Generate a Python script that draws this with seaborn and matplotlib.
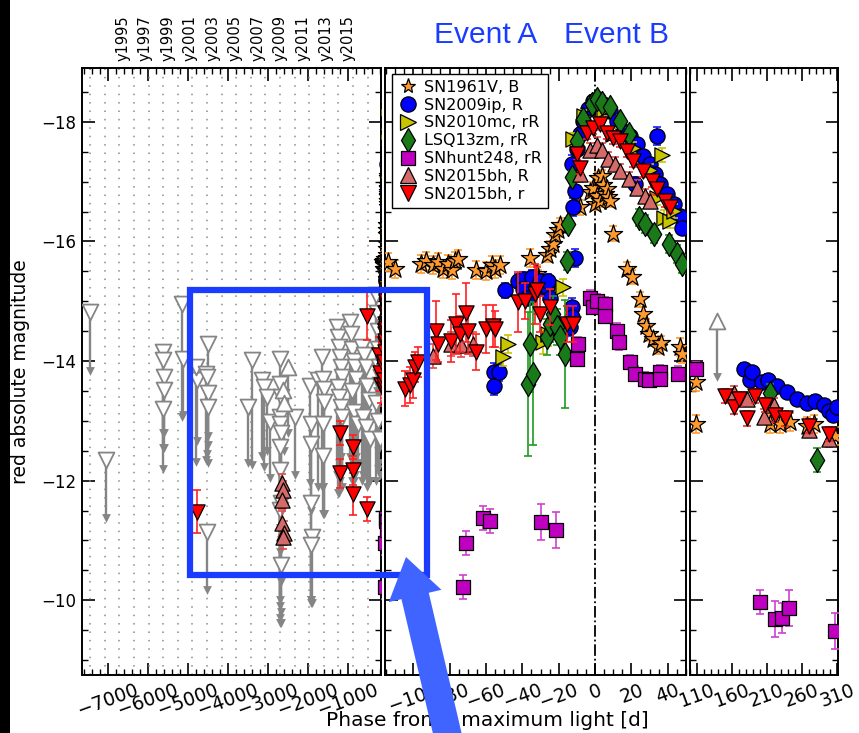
import numpy as np
import pandas as pd
import matplotlib
matplotlib.use("Agg")
import matplotlib.pyplot as plt
import seaborn as sns
from matplotlib.lines import Line2D
from matplotlib.patches import Rectangle, Polygon
from matplotlib.ticker import MultipleLocator, FixedLocator

sns.set_theme(style="ticks")
plt.rcParams['font.family'] = ['DejaVu Sans']
plt.rcParams.update({'axes.edgecolor': 'black', 'xtick.color': 'black',
                     'ytick.color': 'black', 'text.color': 'black',
                     'axes.labelcolor': 'black', 'axes.unicode_minus': True})

# ---------------- data ----------------
series_names = ['SN1961V, B', 'SN2009ip, R', 'SN2010mc, rR', 'LSQ13zm, rR',
                'SNhunt248, rR', 'SN2015bh, R', 'SN2015bh, r']

sn61_phase = [-114, -110, -95.5, -92.7, -89.0, -86.3, -83.5, -80.8, -78.9, -77.1,
              -75.3, -65.2, -59.7, -56.9, -55.1, -52.3, -35.8, -32.1, -31.5, -26.7,
              -24.9, -23.1, -22.2, -20.4, -19.5, -8.3, -2.8, -0.9, 0.0, 0.9,
              1.8, 2.8, 3.7, 4.6, 5.5, 6.4, 7.3, 8.3, 10.1, 17.4,
              20.2, 24.8, 26.6, 28.0, 29.9, 31.7, 34.5, 36.4, 46.5, 47.8,
              109, 109, 214.3, 229, 243, 267, 276.6, 307.5]
sn61_mag = [-15.65, -15.54, -15.62, -15.68, -15.60, -15.65, -15.54, -15.62, -15.52, -15.68,
            -15.71, -15.52, -15.50, -15.60, -15.54, -15.60, -15.73, -15.45, -15.38, -15.77,
            -15.88, -15.96, -16.10, -16.19, -16.27, -16.57, -16.82, -16.90, -16.62, -16.76,
            -17.06, -16.68, -17.09, -16.95, -16.79, -16.87, -16.74, -16.68, -16.13, -15.54,
            -15.40, -15.03, -14.78, -14.59, -14.45, -14.37, -14.23, -14.30, -14.23, -14.12,
            -13.65, -12.94, -12.94, -12.94, -12.98, -12.91, -12.94, -12.75]
sn61_err = [0.15, 0.15, 0.15, 0.15, 0.15, 0.15, 0.15, 0.15, 0.15, 0.15,
            0.15, 0.15, 0.15, 0.15, 0.15, 0.15, 0.15, 0.15, 0.15, 0.12,
            0.12, 0.12, 0.12, 0.12, 0.12, 0.12, 0.1, 0.1, 0.1, 0.1,
            0.1, 0.1, 0.1, 0.1, 0.1, 0.1, 0.1, 0.1, 0.12, 0.12,
            0.12, 0.12, 0.12, 0.12, 0.12, 0.12, 0.12, 0.12, 0.15, 0.15,
            0.15, 0.15, 0.15, 0.15, 0.15, 0.15, 0.15, 0.15]

ip_phase = [-55.8, -55.8, -53.0, -49.6, -42.3, -39.5, -39.5, -37.2, -34.9, -32.1,
            -30.3, -26.6, -25.7, -24.8, -13.8, -12.9, -12.9, -11.9, -11.0, -11.0,
            -12.9, -10.1, -8.3, -6.4, -3.7, -0.9, 1.8, 4.6, 8.3, 11.9,
            15.6, 19.3, 22.1, 23.0, 26.6, 30.3, 33.1, 34.0, 35.8, 39.5,
            43.2, 46.8, 47.8, 176.6, 186, 188.5, 202.8, 212, 224, 238.5,
            252.8, 267, 279, 291, 298, 305, 310]
ip_mag = [-13.81, -13.59, -13.81, -15.18, -15.34, -15.37, -15.20, -15.06, -15.40, -15.20,
          -15.34, -15.23, -15.34, -15.06, -14.57, -14.90, -14.73, -16.57, -16.85, -15.73,
          -17.29, -17.54, -17.79, -18.01, -18.21, -18.35, -18.38, -18.29, -18.18, -18.01,
          -17.85, -17.77, -16.96, -17.63, -17.43, -17.29, -17.12, -17.77, -16.96, -16.79,
          -16.62, -16.42, -16.23, -13.87, -13.68, -13.81, -13.65, -13.68, -13.58, -13.49,
          -13.36, -13.30, -13.33, -13.26, -13.17, -13.10, -13.23]
ip_err = [0.15, 0.15, 0.15, 0.12, 0.12, 0.12, 0.12, 0.12, 0.12, 0.12,
          0.12, 0.12, 0.12, 0.12, 0.15, 0.15, 0.15, 0.15, 0.15, 0.15,
          0.15, 0.1, 0.1, 0.1, 0.1, 0.1, 0.1, 0.1, 0.1, 0.1,
          0.1, 0.1, 0.12, 0.1, 0.1, 0.1, 0.1, 0.15, 0.1, 0.1,
          0.1, 0.1, 0.1, 0.1, 0.1, 0.1, 0.1, 0.1, 0.1, 0.1,
          0.1, 0.1, 0.1, 0.1, 0.1, 0.1, 0.1]

mc_phase = [-50.8, -47.8, -28.5, -25.7, -17.6, -11.9, -6.0, 0.0, 5.0, 10.1,
            21.1, 30.0, 34.0, 37.0, 37.7, 41.3, 43.2]
mc_mag = [-14.07, -14.29, -14.31, -14.45, -15.23, -17.71, -18.10, -18.30, -18.20, -17.79,
          -17.57, -17.20, -16.73, -17.45, -16.40, -16.34, -16.51]
mc_err = [0.15, 0.15, 0.2, 0.2, 0.15, 0.1, 0.1, 0.1, 0.1, 0.1,
          0.1, 0.1, 0.12, 0.12, 0.12, 0.12, 0.12]

zm_phase = [-36.7, -35.8, -34.0, -26.6, -24.8, -22.9, -21.1, -19.3, -16.5, -15.6,
            -14.7, -12.9, -10.1, -6.4, -1.8, 0.9, 3.7, 8.3, 13.8, 18.4,
            23.9, 27.6, 32.2, 40.4, 45.0, 47.8, 214.7, 281.4]
zm_mag = [-13.62, -14.29, -13.79, -14.40, -14.62, -14.79, -14.57, -14.40, -14.12, -15.68,
          -16.29, -17.07, -17.68, -18.04, -18.29, -18.38, -18.32, -18.24, -18.01, -17.79,
          -16.40, -16.29, -16.12, -15.96, -15.79, -15.62, -13.46, -12.34]
zm_err = [1.2, 0.8, 1.2, 0.3, 0.3, 0.3, 0.3, 0.3, 0.9, 0.15,
          0.1, 0.1, 0.1, 0.1, 0.1, 0.1, 0.1, 0.1, 0.1, 0.1,
          0.15, 0.15, 0.15, 0.15, 0.15, 0.15, 0.15, 0.2]

hu_phase = [-72.7, -71.1, -61.7, -57.9, -29.8, -21.5, -10.1, -9.2, -2.8, -0.9,
            0.9, 5.5, 5.5, 11.9, 12.9, 19.3, 22.1, 27.6, 29.4, 35.8,
            35.8, 45.8, 109, 200.5, 221.9, 231.4, 241, 307.5]
hu_mag = [-10.22, -10.95, -11.37, -11.32, -11.31, -11.17, -14.04, -14.29, -15.06, -14.90,
          -15.00, -14.95, -14.76, -14.51, -14.31, -13.98, -13.79, -13.70, -13.68, -13.81,
          -13.70, -13.79, -13.87, -9.97, -9.68, -9.71, -9.87, -9.49]
hu_err = [0.2, 0.2, 0.2, 0.2, 0.3, 0.3, 0.12, 0.12, 0.12, 0.12,
          0.12, 0.12, 0.12, 0.12, 0.12, 0.12, 0.12, 0.12, 0.12, 0.12,
          0.12, 0.12, 0.12, 0.2, 0.3, 0.25, 0.3, 0.3]

bR_phase = [-2650, -2620, -2640, -2650, -2610, -2630, -89.1, -79.0, -73.5, -67.1,
            -8.3, -2.8, 0.9, 3.7, 7.3, 11.0, 13.8, 18.4, 23.0, 27.6,
            30.3, 162.4, 181.4, 205.2, 219.5, 269.5, 298]
bR_mag = [-11.96, -11.84, -11.67, -11.29, -11.12, -11.05, -14.09, -14.29, -14.26, -14.29,
          -17.12, -17.53, -17.62, -17.53, -17.38, -17.29, -17.18, -17.04, -16.90, -16.76,
          -16.68, -13.46, -13.36, -13.07, -13.26, -12.85, -12.69]
bR_err = [0.15, 0.15, 0.15, 0.2, 0.2, 0.2, 0.2, 0.2, 0.2, 0.2,
          0.12, 0.12, 0.12, 0.12, 0.12, 0.12, 0.12, 0.12, 0.12, 0.12,
          0.12, 0.12, 0.12, 0.12, 0.12, 0.12, 0.12]

br_phase = [-4775, -1200, -1200, -875, -875, -880, -525, -525, -230, -200,
            -180, -104.7, -102.0, -100.0, -99.2, -97.4, -87.2, -86.3, -79.0, -76.2,
            -74.4, -70.7, -69.8, -65.2, -59.7, -56.0, -55.1, -42.3, -38.6, -33.0,
            -32.1, -30.3, -24.8, -15.6, -12.0, -10.1, -8.3, -4.6, -0.9, 2.8,
            6.4, 10.1, 13.8, 17.4, 21.1, 26.6, 31.2, 34.0, 38.6, 41.3,
            150.5, 162.4, 169.5, 181.4, 193.3, 207.6, 221.9, 236, 269.5, 298]
br_mag = [-11.48, -12.79, -12.12, -12.56, -12.17, -11.78, -14.76, -11.53, -14.10, -13.80,
          -13.60, -13.54, -13.60, -13.68, -13.90, -13.99, -14.51, -14.29, -14.34, -14.62,
          -14.45, -14.81, -14.51, -14.15, -14.54, -14.59, -14.54, -14.99, -15.01, -15.12,
          -15.18, -14.79, -14.90, -14.62, -14.62, -17.46, -17.23, -17.82, -17.90, -17.96,
          -17.82, -17.73, -17.68, -17.51, -17.34, -17.18, -17.01, -16.87, -16.68, -16.57,
          -13.42, -13.23, -13.36, -13.04, -13.42, -13.26, -13.10, -13.04, -12.91, -12.78]
br_err = [0.36, 0.2, 0.25, 0.2, 0.25, 0.35, 0.4, 0.2, 0.3, 0.3,
          0.3, 0.3, 0.3, 0.3, 0.25, 0.25, 0.5, 0.3, 0.35, 0.5,
          0.3, 0.5, 0.4, 0.3, 0.4, 0.35, 0.3, 0.5, 0.3, 0.5,
          0.4, 0.3, 0.3, 0.3, 0.3, 0.1, 0.1, 0.1, 0.1, 0.1,
          0.1, 0.1, 0.1, 0.1, 0.1, 0.1, 0.1, 0.1, 0.1, 0.1,
          0.12, 0.12, 0.12, 0.12, 0.12, 0.12, 0.12, 0.12, 0.12, 0.12]

# upper limits (open down triangles): limit magnitude and arrow end
ul_phase = [-7450, -7050,
            -5630, -5620, -5610, -5600, -5625,
            -5150, -5120, -4775, -4790,
            -4500, -4550, -4520, -4510, -4495, -4530,
            -3400, -3490, -3158, -3100, -3033, -2950,
            -2700, -2690, -2680, -2700, -2690, -2680, -2690, -2690, -2680, -2690, -2680,
            -2325,
            -1950, -1925, -1930, -1920, -1910, -1915, -1750,
            -1640, -1620, -1610, -1600, -1630, -1620,
            -1275, -1250, -1225, -1200, -1175, -1150, -1260, -1220, -1180, -1140,
            -950, -920, -890, -860, -830, -800, -900, -850, -760,
            -650, -600, -560, -520, -480, -620, -540, -440,
            -300, -280, -260, -240, -220, -200, -290, -250, -210]
ul_mag = [-14.82, -12.34,
          -14.15, -14.02, -13.73, -13.51, -13.20,
          -14.96, -14.04, -13.68, -13.90,
          -14.29, -13.79, -13.73, -13.46, -13.23, -11.14,
          -14.01, -13.23, -13.68, -13.56, -13.40, -12.98,
          -14.04, -13.62, -13.40, -13.06, -12.95, -12.79, -12.56, -12.17, -11.62, -11.51, -10.59,
          -13.06,
          -13.59, -12.95, -12.62, -11.62, -11.06, -10.92, -13.68,
          -14.07, -13.70, -13.54, -13.31, -12.95, -12.42,
          -14.57, -14.40, -14.23, -14.07, -13.90, -13.73, -13.56, -13.40, -13.23, -13.06,
          -14.65, -14.45, -14.20, -14.00, -13.90, -13.70, -13.50, -13.15, -12.95,
          -14.23, -14.10, -13.90, -13.59, -13.35, -13.06, -12.90, -12.70,
          -15.10, -14.80, -14.50, -14.20, -13.90, -13.60, -13.30, -13.00, -12.70]
ul_end = [-13.84, -11.37,
          -12.20, -12.54, -12.54, -12.79, -12.79,
          -13.06, -13.10, -12.67, -12.31,
          -12.29, -12.35, -12.45, -12.60, -12.75, -10.17,
          -12.26, -12.30, -12.42, -12.22, -12.50, -12.04,
          -9.62, -9.90, -10.30, -10.60, -10.80, -11.00, -11.20, -9.70, -9.80, -10.00, -9.62,
          -12.09,
          -11.96, -11.50, -10.00, -10.00, -9.95, -9.95, -11.90,
          -11.90, -11.90, -11.45, -11.45, -11.90, -11.45,
          -12.10, -11.80, -12.30, -12.00, -12.20, -11.90, -12.10, -11.80, -12.40, -12.20,
          -12.40, -12.20, -12.00, -12.30, -12.10, -12.40, -12.20, -12.00, -12.30,
          -12.00, -12.20, -12.10, -11.90, -12.00, -12.10, -12.20, -12.00,
          -13.80, -13.50, -12.80, -12.50, -12.30, -12.10, -12.00, -12.20, -12.10]
# upper limits drawn with open up triangles
ulu_phase = [-2500, -2620, -2610, 138.6]
ulu_mag = [-13.90, -13.51, -13.30, -14.67]
ulu_end = [-12.80, -12.60, -12.50, -13.74]

# Jan 1st of 1995..2014 in days from maximum
year_lines = [-7448, -7083, -6718, -6352, -5987, -5622, -5257, -4891, -4526, -4161,
              -3796, -3430, -3065, -2700, -2335, -1969, -1604, -1239, -874, -508]
year_labels = ['y1995', 'y1997', 'y1999', 'y2001', 'y2003', 'y2005',
               'y2007', 'y2009', 'y2011', 'y2013', 'y2015']
year_ticks = [1995, 1997, 1999, 2001, 2003, 2005, 2007, 2009, 2011, 2013, 2015]

xt_left = [-7000, -6000, -5000, -4000, -3000, -2000, -1000]
xt_mid = [-100, -80, -60, -40, -20, 0, 20, 40]
xt_right = [110, 160, 210, 260, 310]

# ---------------- frame ----------------
frames = []
for name, ph, mg, er in zip(series_names,
                            [sn61_phase, ip_phase, mc_phase, zm_phase, hu_phase, bR_phase, br_phase],
                            [sn61_mag, ip_mag, mc_mag, zm_mag, hu_mag, bR_mag, br_mag],
                            [sn61_err, ip_err, mc_err, zm_err, hu_err, bR_err, br_err]):
    frames.append(pd.DataFrame({'phase': ph, 'mag': mg, 'err': er, 'series': name}))
df = pd.concat(frames, ignore_index=True)

styles = {
    'SN1961V, B':    dict(marker='*', fc='#ff9a2e', ecol='#ff9a2e', s=190, ms=11),
    'SN2009ip, R':   dict(marker='o', fc='#0000ff', ecol='#1a1aff', s=120, ms=11),
    'SN2010mc, rR':  dict(marker='>', fc='#c8c400', ecol='#c8c400', s=120, ms=11),
    'LSQ13zm, rR':   dict(marker='d', fc='#1a7a1a', ecol='#1f9a1f', s=150, ms=12),
    'SNhunt248, rR': dict(marker='s', fc='#c000c0', ecol='#d040d0', s=105, ms=10),
    'SN2015bh, R':   dict(marker='^', fc='#d46a6a', ecol='#e04a4a', s=120, ms=11),
    'SN2015bh, r':   dict(marker='v', fc='#ff0000', ecol='#ff2020', s=120, ms=11),
}
GRAY = '#858585'

# ---------------- figure ----------------
W, H = 859, 733
fig = plt.figure(figsize=(W / 100, H / 100), dpi=100)
fig.patch.set_facecolor('white')


def fx(px):
    return px / W


def fy(py):
    return 1 - py / H


bot, top = fy(675), fy(68)
axL = fig.add_axes([fx(82), bot, fx(381) - fx(82), top - bot])
axM = fig.add_axes([fx(385), bot, fx(686) - fx(385), top - bot])
axR = fig.add_axes([fx(690), bot, fx(838) - fx(690), top - bot])
axes = [axL, axM, axR]

for p in year_lines:
    axL.axvline(p, color='#8a8a8a', lw=1.1, ls=(0, (1, 4.5)), zorder=1)
axM.axvline(0, color='black', lw=1.3, ls='-.', zorder=1)

for ax in axes:
    # upper limits
    for php, mgp, enp, mk in [(ul_phase, ul_mag, ul_end, 'v'), (ulu_phase, ulu_mag, ulu_end, '^')]:
        ax.vlines(php, mgp, enp, colors=GRAY, linewidth=1.7, zorder=2)
        sns.scatterplot(x=php, y=enp, ax=ax, marker='v', color=GRAY, s=40,
                        linewidth=0, zorder=3, legend=False)
        sns.scatterplot(x=php, y=mgp, ax=ax, marker=mk, color='white', edgecolor=GRAY,
                        s=130, linewidth=1.3, zorder=4, legend=False)
    # detections
    for i, name in enumerate(series_names):
        st = styles[name]
        sub = df[df['series'] == name]
        ax.errorbar(sub['phase'], sub['mag'], yerr=sub['err'], fmt='none',
                    ecolor=st['ecol'], elinewidth=1.2, capsize=3, capthick=1.2,
                    zorder=5 + 2 * i)
        sns.scatterplot(data=sub, x='phase', y='mag', ax=ax, marker=st['marker'],
                        color=st['fc'], edgecolor='black', s=st['s'], linewidth=0.9,
                        zorder=6 + 2 * i, legend=False)
    ax.set_xlabel('')
    ax.set_ylabel('')
    ax.set_ylim(-8.75, -18.9)
    ax.yaxis.set_major_locator(MultipleLocator(2))
    ax.yaxis.set_minor_locator(MultipleLocator(0.5))
    for sp in ax.spines.values():
        sp.set_linewidth(1.4)
        sp.set_color('black')

axL.set_xlim(-7650, -175)
axM.set_xlim(-115.5, 50)
axR.set_xlim(100, 311.5)
axL.xaxis.set_major_locator(FixedLocator(xt_left))
axL.xaxis.set_minor_locator(MultipleLocator(200))
axM.xaxis.set_major_locator(FixedLocator(xt_mid))
axM.xaxis.set_minor_locator(MultipleLocator(5))
axR.xaxis.set_major_locator(FixedLocator(xt_right))
axR.xaxis.set_minor_locator(MultipleLocator(10))

# year labels on top of the left panel
axT = axL.twiny()
axT.set_xlim(1991.36, 2017.92)
axT.set_xticks(year_ticks)
axT.set_xticklabels(year_labels, rotation=90, fontsize=10.5)
axT.tick_params(axis='x', length=0, pad=5)
for sp in axT.spines.values():
    sp.set_visible(False)

for ax in axes:
    ax.tick_params(which='both', direction='in', top=True, right=True,
                   bottom=True, left=True)
    ax.tick_params(which='major', length=9, width=1.2)
    ax.tick_params(which='minor', length=4.5, width=1.0)
    ax.tick_params(axis='x', labelsize=13.5, pad=4)
    for lab in ax.get_xticklabels():
        lab.set_rotation(20)
        lab.set_ha('center')
axL.tick_params(axis='y', labelsize=12, pad=4)
axM.tick_params(axis='y', labelleft=False)
axR.tick_params(axis='y', labelleft=False)

# legend
handles = [Line2D([], [], ls='none', marker=styles[n]['marker'],
                  markerfacecolor=styles[n]['fc'], markeredgecolor='black',
                  markeredgewidth=0.9, markersize=styles[n]['ms']) for n in series_names]
leg = axM.legend(handles, series_names, loc='upper left', bbox_to_anchor=(0.022, 0.99),
                 borderaxespad=0, fontsize=11.5, frameon=True, fancybox=False,
                 edgecolor='black', framealpha=1, handletextpad=0.4,
                 labelspacing=0.18, borderpad=0.35, handlelength=1.3)
leg.get_frame().set_linewidth(1.0)
leg.set_zorder(30)

# axis labels
fig.text(fx(487), fy(720), 'Phase from r maximum light [d]', ha='center', va='center',
         fontsize=14.5)
fig.text(fx(21), fy(372), 'red absolute magnitude', ha='center', va='center',
         rotation=90, fontsize=13.5)

# annotations
BLUE = '#1a3cff'
fig.text(fx(486), fy(35), 'Event A', ha='center', va='center', fontsize=21.5,
         color=BLUE, family=['Liberation Sans', 'DejaVu Sans'])
fig.text(fx(617), fy(35), 'Event B', ha='center', va='center', fontsize=21.5,
         color=BLUE, family=['Liberation Sans', 'DejaVu Sans'])

fig.add_artist(Rectangle((fx(190), fy(575)), fx(427) - fx(190), fy(290) - fy(575),
                         transform=fig.transFigure, fill=False, edgecolor=BLUE,
                         linewidth=4.5, zorder=40))

tip = np.array([406.0, 557.0])
tail = np.array([450.0, 745.0])
u = (tip - tail) / np.linalg.norm(tip - tail)
n = np.array([-u[1], u[0]])
neck = tip - u * 40
pts = [tail - n * 14, neck - n * 14, neck - n * 27, tip, neck + n * 27, neck + n * 14, tail + n * 14]
pts_fig = [(fx(p[0]), fy(p[1])) for p in pts]
fig.add_artist(Polygon(pts_fig, closed=True, transform=fig.transFigure,
                       facecolor='#3f64ff', edgecolor='none', zorder=41))

# black strip at the left edge
fig.add_artist(Rectangle((0, 0), fx(10), 1, transform=fig.transFigure,
                         facecolor='black', edgecolor='none', zorder=50))

fig.savefig('out.png', dpi=100)
